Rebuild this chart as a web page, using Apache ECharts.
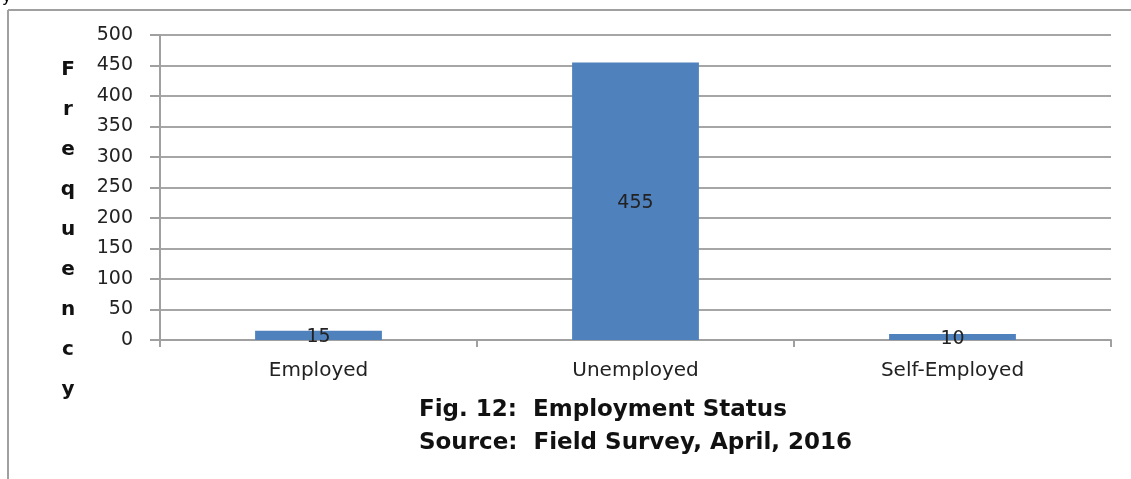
<!DOCTYPE html>
<html><head><meta charset="utf-8">
<script src="https://cdn.jsdelivr.net/npm/echarts@6/dist/echarts.min.js"></script>
<style>html,body{margin:0;padding:0;background:#fff}#c{width:1131px;height:479px}</style>
</head><body><div id="c"></div>
<script>
const categories = ['Employed', 'Unemployed', 'Self-Employed'];
const frequency = [15, 455, 10];
const axisLetters = 'Frequency';
const titleLine1 = 'Fig. 12:  Employment Status';
const titleLine2 = 'Source:  Field Survey, April, 2016';

const chart = echarts.init(document.getElementById('c'));
chart.setOption({
  animation: false,
  backgroundColor: '#fff',
  grid: {left: 160, right: 20, top: 35, bottom: 139},
  xAxis: {
    type: 'category', data: categories,
    axisLine: {lineStyle: {color: '#a0a0a0', width: 2}},
    axisTick: {show: true, length: 7, lineStyle: {color: '#a0a0a0', width: 2}},
    axisLabel: {color: '#222', fontSize: 20, fontFamily: 'DejaVu Sans', margin: 21}
  },
  yAxis: {
    type: 'value', min: 0, max: 500, interval: 50,
    axisLine: {show: true, lineStyle: {color: '#a0a0a0', width: 2}},
    axisTick: {show: true, length: 10, lineStyle: {color: '#a0a0a0', width: 2}},
    axisLabel: {color: '#222', fontSize: 19, fontFamily: 'DejaVu Sans', margin: 27},
    splitLine: {lineStyle: {color: '#a6a6a6', width: 2}}
  },
  series: [{
    type: 'bar', data: frequency, barWidth: '40%',
    itemStyle: {color: '#4f81bd'},
    label: {show: true, position: 'inside', color: '#222', fontSize: 19, fontFamily: 'DejaVu Sans', offset: [0, 2]}
  }],
  graphic: [
    {type: 'line', shape: {x1: 8, y1: 10, x2: 1131, y2: 10}, style: {stroke: '#a0a0a0', lineWidth: 2}},
    {type: 'line', shape: {x1: 8, y1: 10, x2: 8, y2: 479}, style: {stroke: '#a0a0a0', lineWidth: 2}},
    {type: 'text', left: 2, top: -10, style: {text: 'y', fontSize: 16, fill: '#000', fontFamily: 'DejaVu Sans'}},
    {type: 'text', x: 68, y: 50, style: {text: axisLetters.split('').join('\n'), fontSize: 20, fontWeight: 'bold', lineHeight: 40, align: 'center', fill: '#111', fontFamily: 'DejaVu Sans'}},
    {type: 'text', x: 419, y: 410, style: {text: titleLine1, fontSize: 23, fontWeight: 'bold', fill: '#111', fontFamily: 'DejaVu Sans', verticalAlign: 'middle'}},
    {type: 'text', x: 419, y: 443, style: {text: titleLine2, fontSize: 23, fontWeight: 'bold', fill: '#111', fontFamily: 'DejaVu Sans', verticalAlign: 'middle'}}
  ]
});
</script></body></html>
